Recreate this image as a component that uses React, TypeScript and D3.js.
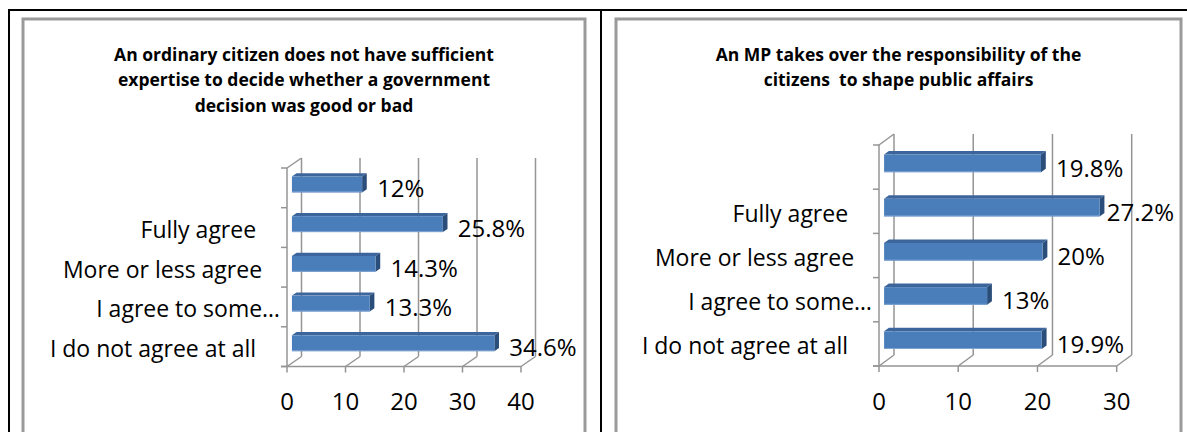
import React, { useEffect, useRef } from "react";
import * as d3 from "d3";

// ---- data ----
const categories = [
  "I do not agree at all    ",
  "I agree to some…",
  "More or less agree   ",
  "Fully agree    ",
  "",
];
const expertiseValues = [34.6, 13.3, 14.3, 25.8, 12];
const responsibilityValues = [19.9, 13, 20, 27.2, 19.8];
const expertiseTicks = [0, 10, 20, 30, 40];
const responsibilityTicks = [0, 10, 20, 30];
const expertiseTitle = [
  "An ordinary citizen does not have sufficient",
  "expertise to decide whether a government",
  "decision was good or bad",
];
const responsibilityTitle = [
  "An MP takes over the responsibility of the",
  "citizens  to shape public affairs",
];

// ---- layout ----
const W = 1187;
const H = 432;
const FONT = "'Open Sans', 'DejaVu Sans', sans-serif";

const panels = [
  {
    title: expertiseTitle,
    values: expertiseValues,
    ticks: expertiseTicks,
    frame: { x0: 23, x1: 585, y0: 19 },
    plot: { x0: 287, x1: 521, yT: 168, yB: 366.5 },
    depth: { dx: 14.5, dy: 10 },
  },
  {
    title: responsibilityTitle,
    values: responsibilityValues,
    ticks: responsibilityTicks,
    frame: { x0: 616, x1: 1181, y0: 19 },
    plot: { x0: 879, x1: 1116.7, yT: 145, yB: 366 },
    depth: { dx: 15, dy: 11 },
  },
];

export default function App() {
  const ref = useRef<SVGSVGElement | null>(null);

  useEffect(() => {
    const svg = d3.select(ref.current);
    svg.selectAll("*").remove();

    // table borders
    svg.append("rect").attr("x", 0).attr("y", 0).attr("width", W).attr("height", H).attr("fill", "#fff");
    const black = svg.append("g").attr("stroke", "#000").attr("stroke-width", 2);
    black.append("line").attr("x1", 8).attr("x2", W).attr("y1", 10).attr("y2", 10);
    black.append("line").attr("x1", 9).attr("x2", 9).attr("y1", 9).attr("y2", H);
    black.append("line").attr("x1", 601).attr("x2", 601).attr("y1", 9).attr("y2", H);

    panels.forEach((p) => {
      const g = svg.append("g");
      const { frame, plot, depth } = p;
      // frame
      g.append("rect")
        .attr("x", frame.x0)
        .attr("y", frame.y0)
        .attr("width", frame.x1 - frame.x0)
        .attr("height", H + 20 - frame.y0)
        .attr("fill", "#fff")
        .attr("stroke", "#9a9a9a")
        .attr("stroke-width", 3);

      // title
      const cx = (frame.x0 + frame.x1) / 2;
      p.title.forEach((line, i) => {
        g.append("text")
          .attr("x", cx)
          .attr("y", 60.5 + i * 25.5)
          .attr("text-anchor", "middle")
          .attr("font-family", FONT)
          .attr("font-weight", 700)
          .attr("font-size", 17.5)
          .attr("fill", "#000")
          .style("white-space", "pre")
          .text(line);
      });

      const xMax = p.ticks[p.ticks.length - 1];
      const x = d3.scaleLinear().domain([0, xMax]).range([plot.x0, plot.x1]);
      const y = d3
        .scaleBand<number>()
        .domain(categories.map((_, i) => i))
        .range([plot.yB, plot.yT])
        .paddingInner(0)
        .paddingOuter(0);
      const bw = y.bandwidth();
      const { dx, dy } = depth;

      const grid = g.append("g").attr("stroke", "#949494").attr("stroke-width", 1.5).attr("fill", "none");
      // back wall gridlines
      p.ticks.forEach((t) => {
        grid.append("line")
          .attr("x1", x(t) + dx).attr("x2", x(t) + dx)
          .attr("y1", plot.yT - dy).attr("y2", plot.yB - dy);
        // floor diagonals
        grid.append("line")
          .attr("x1", x(t)).attr("x2", x(t) + dx)
          .attr("y1", plot.yB).attr("y2", plot.yB - dy);
        // tick marks below
        grid.append("line")
          .attr("x1", x(t)).attr("x2", x(t))
          .attr("y1", plot.yB).attr("y2", plot.yB + 6);
      });
      // front baseline
      grid.append("line").attr("x1", plot.x0 - 6).attr("x2", x(xMax)).attr("y1", plot.yB).attr("y2", plot.yB);
      // left axis
      grid.append("line").attr("x1", plot.x0).attr("x2", plot.x0).attr("y1", plot.yT).attr("y2", plot.yB);
      grid.append("line").attr("x1", plot.x0).attr("x2", plot.x0 + dx).attr("y1", plot.yT).attr("y2", plot.yT - dy);
      // category ticks
      d3.range(categories.length + 1).forEach((k) => {
        const yy = plot.yB - k * bw;
        grid.append("line").attr("x1", plot.x0 - 6).attr("x2", plot.x0).attr("y1", yy).attr("y2", yy);
      });

      // bars
      const f0 = 0.34;
      const f1 = 0.66;
      const bh = bw * 0.4;
      const ex = (f1 - f0) * dx;
      const ey = (f1 - f0) * dy;
      const bars = g.append("g");
      p.values.forEach((v, i) => {
        const yc = (y(i) as number) + bw / 2 - f0 * dy;
        const xa = x(0) + f0 * dx;
        const xb = x(v) + f0 * dx;
        const ya = yc - bh / 2;
        const yb = yc + bh / 2;
        bars.append("polygon")
          .attr("points", [[xa, ya], [xb, ya], [xb + ex, ya - ey], [xa + ex, ya - ey]].map((q) => q.join(",")).join(" "))
          .attr("fill", "#3c659b");
        bars.append("polygon")
          .attr("points", [[xb, ya], [xb + ex, ya - ey], [xb + ex, yb - ey], [xb, yb]].map((q) => q.join(",")).join(" "))
          .attr("fill", "#2b4d7a");
        bars.append("rect")
          .attr("x", xa).attr("y", ya).attr("width", xb - xa).attr("height", bh)
          .attr("fill", "#4a7ebb");
        bars.append("line")
          .attr("x1", xa).attr("x2", xb).attr("y1", yb - 0.5).attr("y2", yb - 0.5)
          .attr("stroke", "#7fa3d1").attr("stroke-width", 1);
      });

      // value labels
      p.values.forEach((v, i) => {
        const yc = (y(i) as number) + bw / 2;
        const t = g.append("text")
          .attr("y", yc)
          .attr("dominant-baseline", "central")
          .attr("font-family", FONT)
          .attr("font-size", 24)
          .attr("fill", "#000")
          .text(`${v}%`);
        const w = (t.node() as SVGTextElement).getComputedTextLength();
        const xl = Math.min(x(v) + f0 * dx + 15, frame.x1 - 7 - w);
        t.attr("x", xl);
      });

      // category labels
      categories.forEach((c, i) => {
        const yc = (y(i) as number) + bw / 2 + 1.5;
        g.append("text")
          .attr("x", plot.x0 - 7)
          .attr("y", yc)
          .attr("text-anchor", "end")
          .attr("dominant-baseline", "central")
          .attr("font-family", FONT)
          .attr("font-size", 23)
          .attr("fill", "#000")
          .style("white-space", "pre")
          .text(c);
      });

      // x tick labels
      p.ticks.forEach((t) => {
        g.append("text")
          .attr("x", x(t))
          .attr("y", 400.5)
          .attr("text-anchor", "middle")
          .attr("dominant-baseline", "central")
          .attr("font-family", FONT)
          .attr("font-size", 24)
          .attr("fill", "#000")
          .text(String(t));
      });
    });
  }, []);

  return (
    <svg
      ref={ref}
      width={W}
      height={H}
      style={{ position: "absolute", left: 0, top: 0, display: "block" }}
    />
  );
}
